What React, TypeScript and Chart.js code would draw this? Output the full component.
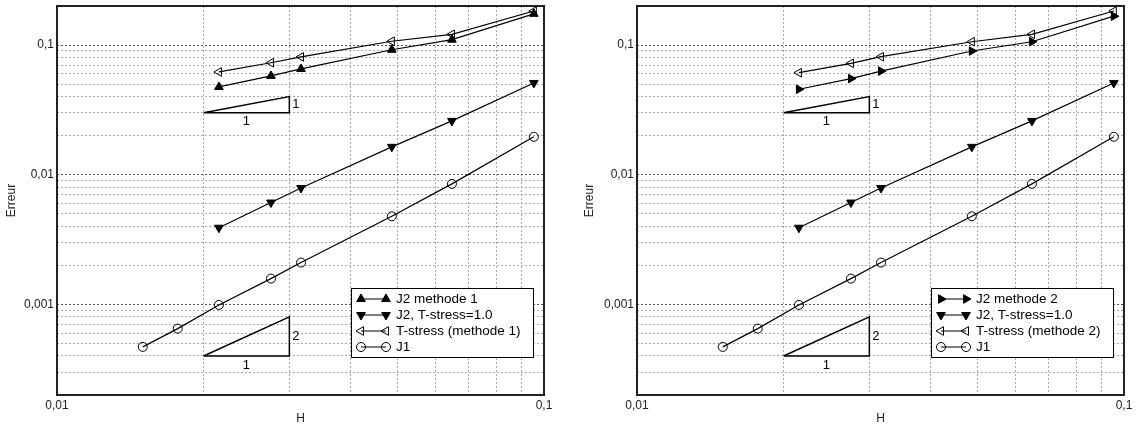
import React, { useEffect, useRef } from 'react';
import { Chart, registerables } from 'chart.js';
import { drawPoint } from 'chart.js/helpers';

Chart.register(...registerables);

// ---- data ----
const H_J1 = [0.015, 0.0177, 0.0215, 0.0275, 0.0317, 0.0487, 0.0647, 0.0953];
const H_J2 = [0.0215, 0.0275, 0.0317, 0.0487, 0.0647, 0.0953];

const J1 = [0.00047, 0.00065, 0.00099, 0.00158, 0.0021, 0.00478, 0.0085, 0.0196];
const J2_TSTRESS_1 = [0.0039, 0.0061, 0.0079, 0.0164, 0.026, 0.051];
const J2_METHODE_1 = [0.0475, 0.0578, 0.0654, 0.092, 0.11, 0.174];
const TSTRESS_METHODE_1 = [0.062, 0.073, 0.081, 0.107, 0.121, 0.183];
const J2_METHODE_2 = [0.0456, 0.0551, 0.063, 0.0899, 0.106, 0.167];
const TSTRESS_METHODE_2 = [0.0612, 0.0723, 0.0813, 0.106, 0.121, 0.183];

// slope triangles
const SLOPE_A_H = [0.02, 0.03, 0.03];
const SLOPE_A_E = [0.03, 0.03, 0.04];
const SLOPE_A_LABELS = ['1', '1'];
const SLOPE_B_H = [0.02, 0.03, 0.03];
const SLOPE_B_E = [0.0004, 0.0004, 0.0008];
const SLOPE_B_LABELS = ['1', '2'];

// ticks
const X_TICKS = [0.01, 0.02, 0.03, 0.04, 0.05, 0.06, 0.07, 0.08, 0.09, 0.1];
const Y_TICKS = [
  0.0002, 0.0003, 0.0004, 0.0005, 0.0006, 0.0007, 0.0008, 0.0009,
  0.001, 0.002, 0.003, 0.004, 0.005, 0.006, 0.007, 0.008, 0.009,
  0.01, 0.02, 0.03, 0.04, 0.05, 0.06, 0.07, 0.08, 0.09,
  0.1, 0.2,
];
const X_LABEL_VALUES = [0.01, 0.1];
const X_LABEL_TEXT = ['0,01', '0,1'];
const Y_LABEL_VALUES = [0.001, 0.01, 0.1];
const Y_LABEL_TEXT = ['0,001', '0,01', '0,1'];

const FONT = "'Liberation Sans', Arial, Helvetica, sans-serif";

const near = (a: number, b: number) => Math.abs(a / b - 1) < 1e-6;
const labelFor = (v: number, vals: number[], texts: string[]) => {
  const i = vals.findIndex((x) => near(v, x));
  return i >= 0 ? texts[i] : '';
};

const pts = (xs: number[], ys: number[]) => xs.map((x, i) => ({ x, y: ys[i] }));
const closed = (xs: number[], ys: number[]) => {
  const a = pts(xs, ys);
  return [...a, a[0]];
};

const framePlugin = {
  id: 'frame',
  beforeDatasetsDraw(chart: any) {
    const { ctx, chartArea: a } = chart;
    ctx.save();
    ctx.strokeStyle = '#222';
    ctx.lineWidth = 2;
    ctx.strokeRect(a.left, a.top, a.right - a.left, a.bottom - a.top);
    ctx.restore();
  },
};

const slopeLabelPlugin = {
  id: 'slopeLabels',
  afterDatasetsDraw(chart: any) {
    const { ctx } = chart;
    const sx = chart.scales.x;
    const sy = chart.scales.y;
    ctx.save();
    ctx.fillStyle = '#000';
    ctx.font = `13px ${FONT}`;
    chart.data.datasets.forEach((ds: any) => {
      if (!ds.slopeLabels) return;
      const p = ds.data.map((d: any) => ({ x: sx.getPixelForValue(d.x), y: sy.getPixelForValue(d.y) }));
      ctx.textAlign = 'center';
      ctx.textBaseline = 'middle';
      ctx.fillText(ds.slopeLabels[0], (p[0].x + p[1].x) / 2, p[1].y + 9);
      ctx.textAlign = 'left';
      ctx.fillText(ds.slopeLabels[1], p[1].x + 3, (p[1].y + p[2].y) / 2);
    });
    ctx.restore();
  },
};

const boxLegendPlugin = {
  id: 'boxLegend',
  afterDatasetsDraw(chart: any) {
    const { ctx, chartArea } = chart;
    const w = 182;
    const h = 69;
    const x0 = Math.round(chartArea.right - 11 - w);
    const y0 = Math.round(chartArea.top + 282);
    ctx.save();
    ctx.fillStyle = '#fff';
    ctx.fillRect(x0, y0, w, h);
    ctx.strokeStyle = '#000';
    ctx.lineWidth = 1;
    ctx.strokeRect(x0 + 0.5, y0 + 0.5, w, h);
    const entries = chart.data.datasets.filter((d: any) => d.inLegend);
    entries.forEach((ds: any, i: number) => {
      const y = y0 + 11 + 16 * i;
      const xa = x0 + 10;
      const xb = x0 + 35;
      ctx.strokeStyle = '#000';
      ctx.lineWidth = 1;
      ctx.beginPath();
      ctx.moveTo(xa, y);
      ctx.lineTo(xb, y);
      ctx.stroke();
      const opts = {
        pointStyle: ds.pointStyle,
        radius: ds.pointRadius,
        rotation: ds.pointRotation || 0,
        borderWidth: 1,
      };
      ctx.fillStyle = ds.pointBackgroundColor;
      ctx.strokeStyle = '#000';
      drawPoint(ctx, opts, xa, y);
      drawPoint(ctx, opts, xb, y);
      ctx.fillStyle = '#000';
      ctx.font = `13.5px ${FONT}`;
      ctx.textAlign = 'left';
      ctx.textBaseline = 'middle';
      ctx.fillText(ds.label, x0 + 45, y);
    });
    ctx.restore();
  },
};

type Panel = {
  j2Label: string;
  tsLabel: string;
  j2: number[];
  ts: number[];
  j2Rotation: number;
  yAxisWidth: number;
  rightPad: number;
  yTitlePad: number;
};

function buildConfig(p: Panel): any {
  const lineBase = {
    borderColor: '#000',
    borderWidth: 1.2,
    pointBorderColor: '#000',
    pointBorderWidth: 1,
    fill: false,
    tension: 0,
    inLegend: true,
  };
  const datasets: any[] = [
    {
      ...lineBase,
      label: p.j2Label,
      data: pts(H_J2, p.j2),
      pointStyle: 'triangle',
      pointRotation: p.j2Rotation,
      pointRadius: 5,
      pointBackgroundColor: '#000',
    },
    {
      ...lineBase,
      label: 'J2, T-stress=1.0',
      data: pts(H_J2, J2_TSTRESS_1),
      pointStyle: 'triangle',
      pointRotation: 180,
      pointRadius: 5,
      pointBackgroundColor: '#000',
    },
    {
      ...lineBase,
      label: p.tsLabel,
      data: pts(H_J2, p.ts),
      pointStyle: 'triangle',
      pointRotation: -90,
      pointRadius: 5,
      pointBackgroundColor: 'rgba(0,0,0,0)',
    },
    {
      ...lineBase,
      label: 'J1',
      data: pts(H_J1, J1),
      pointStyle: 'circle',
      pointRadius: 4.5,
      pointBackgroundColor: 'rgba(0,0,0,0)',
    },
    {
      label: 'slope 1',
      data: closed(SLOPE_A_H, SLOPE_A_E),
      borderColor: '#000',
      borderWidth: 1.5,
      pointRadius: 0,
      fill: false,
      slopeLabels: SLOPE_A_LABELS,
    },
    {
      label: 'slope 2',
      data: closed(SLOPE_B_H, SLOPE_B_E),
      borderColor: '#000',
      borderWidth: 1.5,
      pointRadius: 0,
      fill: false,
      slopeLabels: SLOPE_B_LABELS,
    },
  ];

  const gridColor = (vals: number[]) => (ctx: any) => {
    const v = ctx.tick ? ctx.tick.value : NaN;
    return vals.some((m) => near(v, m)) ? '#555' : '#aaa';
  };

  return {
    type: 'line',
    data: { datasets },
    options: {
      animation: false,
      responsive: false,
      devicePixelRatio: 1,
      layout: { padding: { left: 0, right: p.rightPad, top: 5, bottom: 0 } },
      plugins: { legend: { display: false }, tooltip: { enabled: false } },
      elements: { line: { borderJoinStyle: 'miter' } },
      scales: {
        x: {
          type: 'logarithmic',
          min: 0.01,
          max: 0.1,
          afterBuildTicks: (s: any) => {
            s.ticks = X_TICKS.map((v) => ({ value: v }));
          },
          afterFit: (s: any) => {
            s.height = 35;
            s.paddingLeft = 0;
            s.paddingRight = 0;
          },
          ticks: {
            autoSkip: false,
            maxRotation: 0,
            minRotation: 0,
            padding: 3,
            color: '#222',
            font: { family: FONT, size: 12 },
            callback: (v: any) => labelFor(Number(v), X_LABEL_VALUES, X_LABEL_TEXT),
          },
          grid: { color: gridColor([]), lineWidth: 1, drawTicks: false },
          border: { display: false, dash: [2, 2] },
          title: {
            display: true,
            text: 'H',
            color: '#222',
            font: { family: FONT, size: 12 },
            padding: { top: 0, bottom: 4.5 },
          },
        },
        y: {
          type: 'logarithmic',
          min: 0.0002,
          max: 0.2,
          afterBuildTicks: (s: any) => {
            s.ticks = Y_TICKS.map((v) => ({ value: v }));
          },
          afterFit: (s: any) => {
            s.width = p.yAxisWidth;
            s.paddingTop = 0;
            s.paddingBottom = 0;
          },
          ticks: {
            autoSkip: false,
            padding: 3,
            color: '#222',
            font: { family: FONT, size: 12 },
            callback: (v: any) => labelFor(Number(v), Y_LABEL_VALUES, Y_LABEL_TEXT),
          },
          grid: { color: gridColor(Y_LABEL_VALUES), lineWidth: 1, drawTicks: false },
          border: { display: false, dash: [2, 2] },
          title: {
            display: true,
            text: 'Erreur',
            color: '#222',
            font: { family: FONT, size: 12 },
            padding: { top: p.yTitlePad, bottom: 0 },
          },
        },
      },
    },
    plugins: [framePlugin, slopeLabelPlugin, boxLegendPlugin],
  };
}

function ChartPanel({ panel }: { panel: Panel }) {
  const ref = useRef<HTMLCanvasElement | null>(null);
  useEffect(() => {
    if (!ref.current) return;
    const chart = new Chart(ref.current, buildConfig(panel));
    return () => chart.destroy();
  }, [panel]);
  return (
    <div style={{ width: 570, height: 430 }}>
      <canvas ref={ref} width={570} height={430} style={{ display: 'block', width: 570, height: 430 }} />
    </div>
  );
}

const LEFT: Panel = {
  j2Label: 'J2 methode 1',
  tsLabel: 'T-stress (methode 1)',
  j2: J2_METHODE_1,
  ts: TSTRESS_METHODE_1,
  j2Rotation: 0,
  yAxisWidth: 57,
  rightPad: 26,
  yTitlePad: 4.8,
};

const RIGHT: Panel = {
  j2Label: 'J2 methode 2',
  tsLabel: 'T-stress (methode 2)',
  j2: J2_METHODE_2,
  ts: TSTRESS_METHODE_2,
  j2Rotation: 90,
  yAxisWidth: 67,
  rightPad: 16,
  yTitlePad: 12.8,
};

export default function App() {
  return (
    <div
      style={{
        position: 'absolute',
        left: 0,
        top: 0,
        width: 1140,
        height: 430,
        display: 'flex',
        background: '#fff',
      }}
    >
      <ChartPanel panel={LEFT} />
      <ChartPanel panel={RIGHT} />
    </div>
  );
}
